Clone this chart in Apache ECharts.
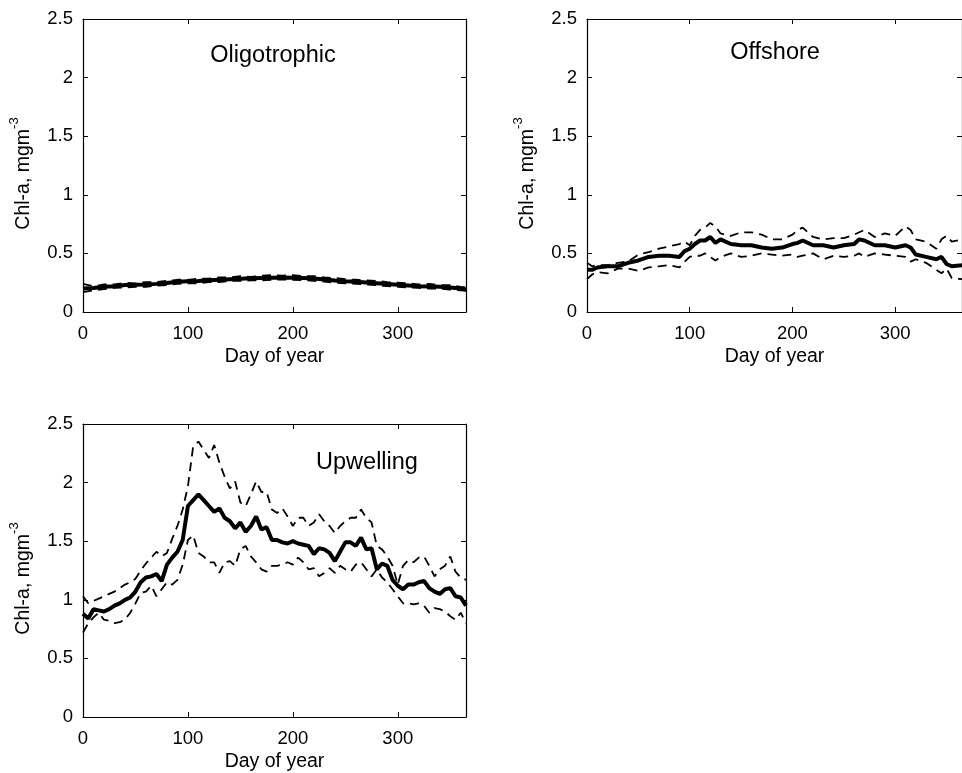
<!DOCTYPE html>
<html>
<head>
<meta charset="utf-8">
<script src="https://cdn.jsdelivr.net/npm/echarts@6/dist/echarts.min.js"></script>
<style>
  html, body { margin: 0; padding: 0; background: #fff; }
  #chart { width: 962px; height: 773px; }
</style>
</head>
<body>
<div id="chart"></div>
<script>
// Oligotrophic
const oligoDays = [0,10,20,30,40,50,60,70,80,90,100,110,120,130,140,150,160,170,180,190,200,210,220,230,240,250,260,270,280,290,300,310,320,330,340,350,360,365];
const oligoMean = [0.20,0.205,0.215,0.22,0.23,0.232,0.235,0.24,0.248,0.258,0.262,0.265,0.27,0.275,0.28,0.284,0.287,0.29,0.293,0.295,0.293,0.29,0.285,0.277,0.268,0.262,0.258,0.252,0.245,0.238,0.232,0.226,0.22,0.218,0.215,0.21,0.20,0.195];
const oligoUpper = [0.24,0.22,0.235,0.235,0.25,0.245,0.255,0.255,0.265,0.275,0.275,0.285,0.285,0.295,0.295,0.305,0.30,0.31,0.315,0.31,0.315,0.305,0.305,0.295,0.29,0.28,0.275,0.27,0.265,0.255,0.25,0.245,0.235,0.24,0.23,0.23,0.215,0.21];
const oligoLower = [0.17,0.185,0.195,0.205,0.21,0.215,0.215,0.225,0.23,0.24,0.245,0.245,0.255,0.255,0.265,0.265,0.27,0.27,0.275,0.278,0.275,0.272,0.265,0.26,0.25,0.245,0.24,0.235,0.228,0.22,0.215,0.21,0.205,0.20,0.198,0.192,0.185,0.18];

// Offshore
const offDays = [0,5,10,20,30,40,50,60,70,80,90,95,100,105,110,115,120,125,130,140,150,160,170,180,190,200,205,210,220,230,240,250,260,265,270,280,290,300,310,315,320,330,340,345,350,355,365];
const offMean = [0.36,0.36,0.38,0.39,0.39,0.42,0.44,0.47,0.48,0.48,0.47,0.52,0.54,0.58,0.61,0.61,0.64,0.59,0.62,0.58,0.57,0.57,0.55,0.54,0.55,0.58,0.59,0.61,0.57,0.57,0.55,0.57,0.58,0.62,0.61,0.57,0.57,0.55,0.57,0.55,0.49,0.47,0.45,0.47,0.41,0.39,0.40];
const offUpper = [0.42,0.39,0.40,0.40,0.42,0.43,0.49,0.51,0.54,0.56,0.58,0.60,0.57,0.65,0.70,0.72,0.76,0.73,0.67,0.65,0.68,0.68,0.66,0.62,0.62,0.66,0.70,0.72,0.64,0.62,0.63,0.63,0.66,0.68,0.70,0.64,0.67,0.65,0.73,0.70,0.62,0.60,0.54,0.62,0.65,0.60,0.62];
const offLower = [0.28,0.32,0.34,0.33,0.37,0.37,0.35,0.38,0.39,0.40,0.38,0.43,0.47,0.48,0.48,0.50,0.47,0.44,0.47,0.50,0.47,0.48,0.50,0.49,0.48,0.49,0.47,0.48,0.50,0.45,0.48,0.47,0.48,0.50,0.47,0.50,0.49,0.48,0.47,0.43,0.45,0.42,0.36,0.33,0.37,0.29,0.28];

// Upwelling (every 5 days)
const upwDays = [0,5,10,15,20,25,30,35,40,45,50,55,60,65,70,75,80,85,90,95,100,105,110,115,120,125,130,135,140,145,150,155,160,165,170,175,180,185,190,195,200,205,210,215,220,225,230,235,240,245,250,255,260,265,270,275,280,285,290,295,300,305,310,315,320,325,330,335,340,345,350,355,360,365];
const upwMean = [0.88,0.84,0.92,0.91,0.90,0.92,0.95,0.97,1.00,1.02,1.07,1.15,1.19,1.20,1.22,1.16,1.30,1.36,1.41,1.51,1.80,1.85,1.90,1.85,1.80,1.75,1.78,1.70,1.67,1.61,1.66,1.58,1.63,1.71,1.60,1.62,1.51,1.51,1.49,1.48,1.50,1.48,1.47,1.46,1.39,1.44,1.43,1.40,1.33,1.41,1.49,1.49,1.46,1.53,1.43,1.44,1.26,1.31,1.29,1.17,1.12,1.09,1.13,1.13,1.15,1.16,1.10,1.07,1.05,1.09,1.10,1.03,1.02,0.95];
const upwUpper = [1.03,0.97,0.99,1.01,1.03,1.05,1.07,1.10,1.13,1.15,1.18,1.25,1.31,1.36,1.41,1.37,1.40,1.52,1.63,1.77,1.97,2.31,2.35,2.28,2.21,2.32,2.17,2.05,1.95,2.01,1.83,1.80,1.90,2.01,1.92,1.92,1.77,1.74,1.78,1.71,1.63,1.70,1.70,1.63,1.66,1.73,1.67,1.63,1.57,1.63,1.67,1.70,1.70,1.77,1.70,1.66,1.46,1.43,1.37,1.29,1.13,1.29,1.34,1.32,1.36,1.37,1.29,1.20,1.26,1.29,1.37,1.24,1.19,1.17];
const upwLower = [0.72,0.80,0.85,0.89,0.83,0.82,0.80,0.81,0.83,0.89,0.97,1.06,1.07,1.12,1.03,1.09,1.15,1.13,1.17,1.30,1.51,1.55,1.40,1.37,1.32,1.32,1.23,1.32,1.33,1.29,1.43,1.46,1.37,1.32,1.26,1.24,1.29,1.29,1.30,1.32,1.30,1.36,1.32,1.26,1.27,1.20,1.23,1.27,1.23,1.29,1.26,1.24,1.30,1.32,1.26,1.20,1.26,1.19,1.15,1.09,1.03,0.97,0.97,0.96,0.97,0.95,0.89,0.93,0.92,0.90,0.86,0.83,0.89,0.80];

const font = "'Liberation Sans', Arial, Helvetica, sans-serif";
const chart = echarts.init(document.getElementById("chart"));

const panels = [
  { title: "Oligotrophic", tx: 273, ty: 56, grid: { left: 83, top: 19, width: 383, height: 293 },
    days: oligoDays, mean: oligoMean, upper: oligoUpper, lower: oligoLower },
  { title: "Offshore", tx: 775, ty: 53, grid: { left: 587, top: 19, width: 383, height: 293 },
    days: offDays, mean: offMean, upper: offUpper, lower: offLower },
  { title: "Upwelling", tx: 367, ty: 463, grid: { left: 83, top: 424, width: 383, height: 294 },
    days: upwDays, mean: upwMean, upper: upwUpper, lower: upwLower },
];

const line = { show: true, onZero: false, lineStyle: { color: "#000", width: 1.2 } };
const tick = { show: true, inside: true, length: 5, lineStyle: { color: "#000" } };

const grid = [], xAxis = [], yAxis = [], series = [], graphic = [];

panels.forEach((p, i) => {
  grid.push(p.grid);
  // bottom + top x axes
  xAxis.push({
    type: "value", gridIndex: i, position: "bottom", min: 0, max: 365, interval: 100,
    axisLine: line, axisTick: tick, splitLine: { show: false },
    axisLabel: { color: "#000", fontSize: 18.5, fontFamily: font, margin: 12, showMaxLabel: false },
    name: "Day of year", nameLocation: "middle", nameGap: 35,
    nameTextStyle: { color: "#000", fontSize: 19.5, fontFamily: font },
  });
  xAxis.push({
    type: "value", gridIndex: i, position: "top", min: 0, max: 365, interval: 100,
    axisLine: line, axisTick: tick, splitLine: { show: false }, axisLabel: { show: false },
  });
  // left + right y axes
  yAxis.push({
    type: "value", gridIndex: i, position: "left", min: 0, max: 2.5, interval: 0.5,
    axisLine: line, axisTick: tick, splitLine: { show: false },
    axisLabel: { color: "#000", fontSize: 18.5, fontFamily: font, margin: 10 },
    name: "{n|Chl-a, mgm}{s|-3}", nameLocation: "middle", nameGap: 49,
    nameTextStyle: {
      color: "#000", fontFamily: font, padding: [0, 0, 0, -16],
      rich: {
        n: { fontSize: 19.5, fontFamily: font, color: "#000", verticalAlign: "bottom", lineHeight: 26 },
        s: { fontSize: 13, fontFamily: font, color: "#000", verticalAlign: "top" },
      },
    },
  });
  yAxis.push({
    type: "value", gridIndex: i, position: "right", min: 0, max: 2.5, interval: 0.5,
    axisLine: line, axisTick: tick, splitLine: { show: false }, axisLabel: { show: false },
  });

  const pairs = (vals) => p.days.map((d, k) => [d, vals[k]]);
  [["upper", p.upper], ["lower", p.lower]].forEach(([nm, vals]) => {
    series.push({
      name: p.title + " " + nm, type: "line", xAxisIndex: i * 2, yAxisIndex: i * 2,
      data: pairs(vals), showSymbol: false, symbol: "none",
      lineStyle: { color: "#000", width: 1.8, type: [9, 6] },
    });
  });
  series.push({
    name: p.title + " mean", type: "line", xAxisIndex: i * 2, yAxisIndex: i * 2,
    data: pairs(p.mean), showSymbol: false, symbol: "none",
    lineStyle: { color: "#000", width: 4 },
  });

  graphic.push({
    type: "text", x: p.tx, y: p.ty,
    style: { text: p.title, fill: "#000", font: "23.5px " + font, align: "center", verticalAlign: "middle" },
  });
});

chart.setOption({
  animation: false,
  backgroundColor: "#fff",
  grid, xAxis, yAxis, series, graphic,
});
</script>
</body>
</html>
